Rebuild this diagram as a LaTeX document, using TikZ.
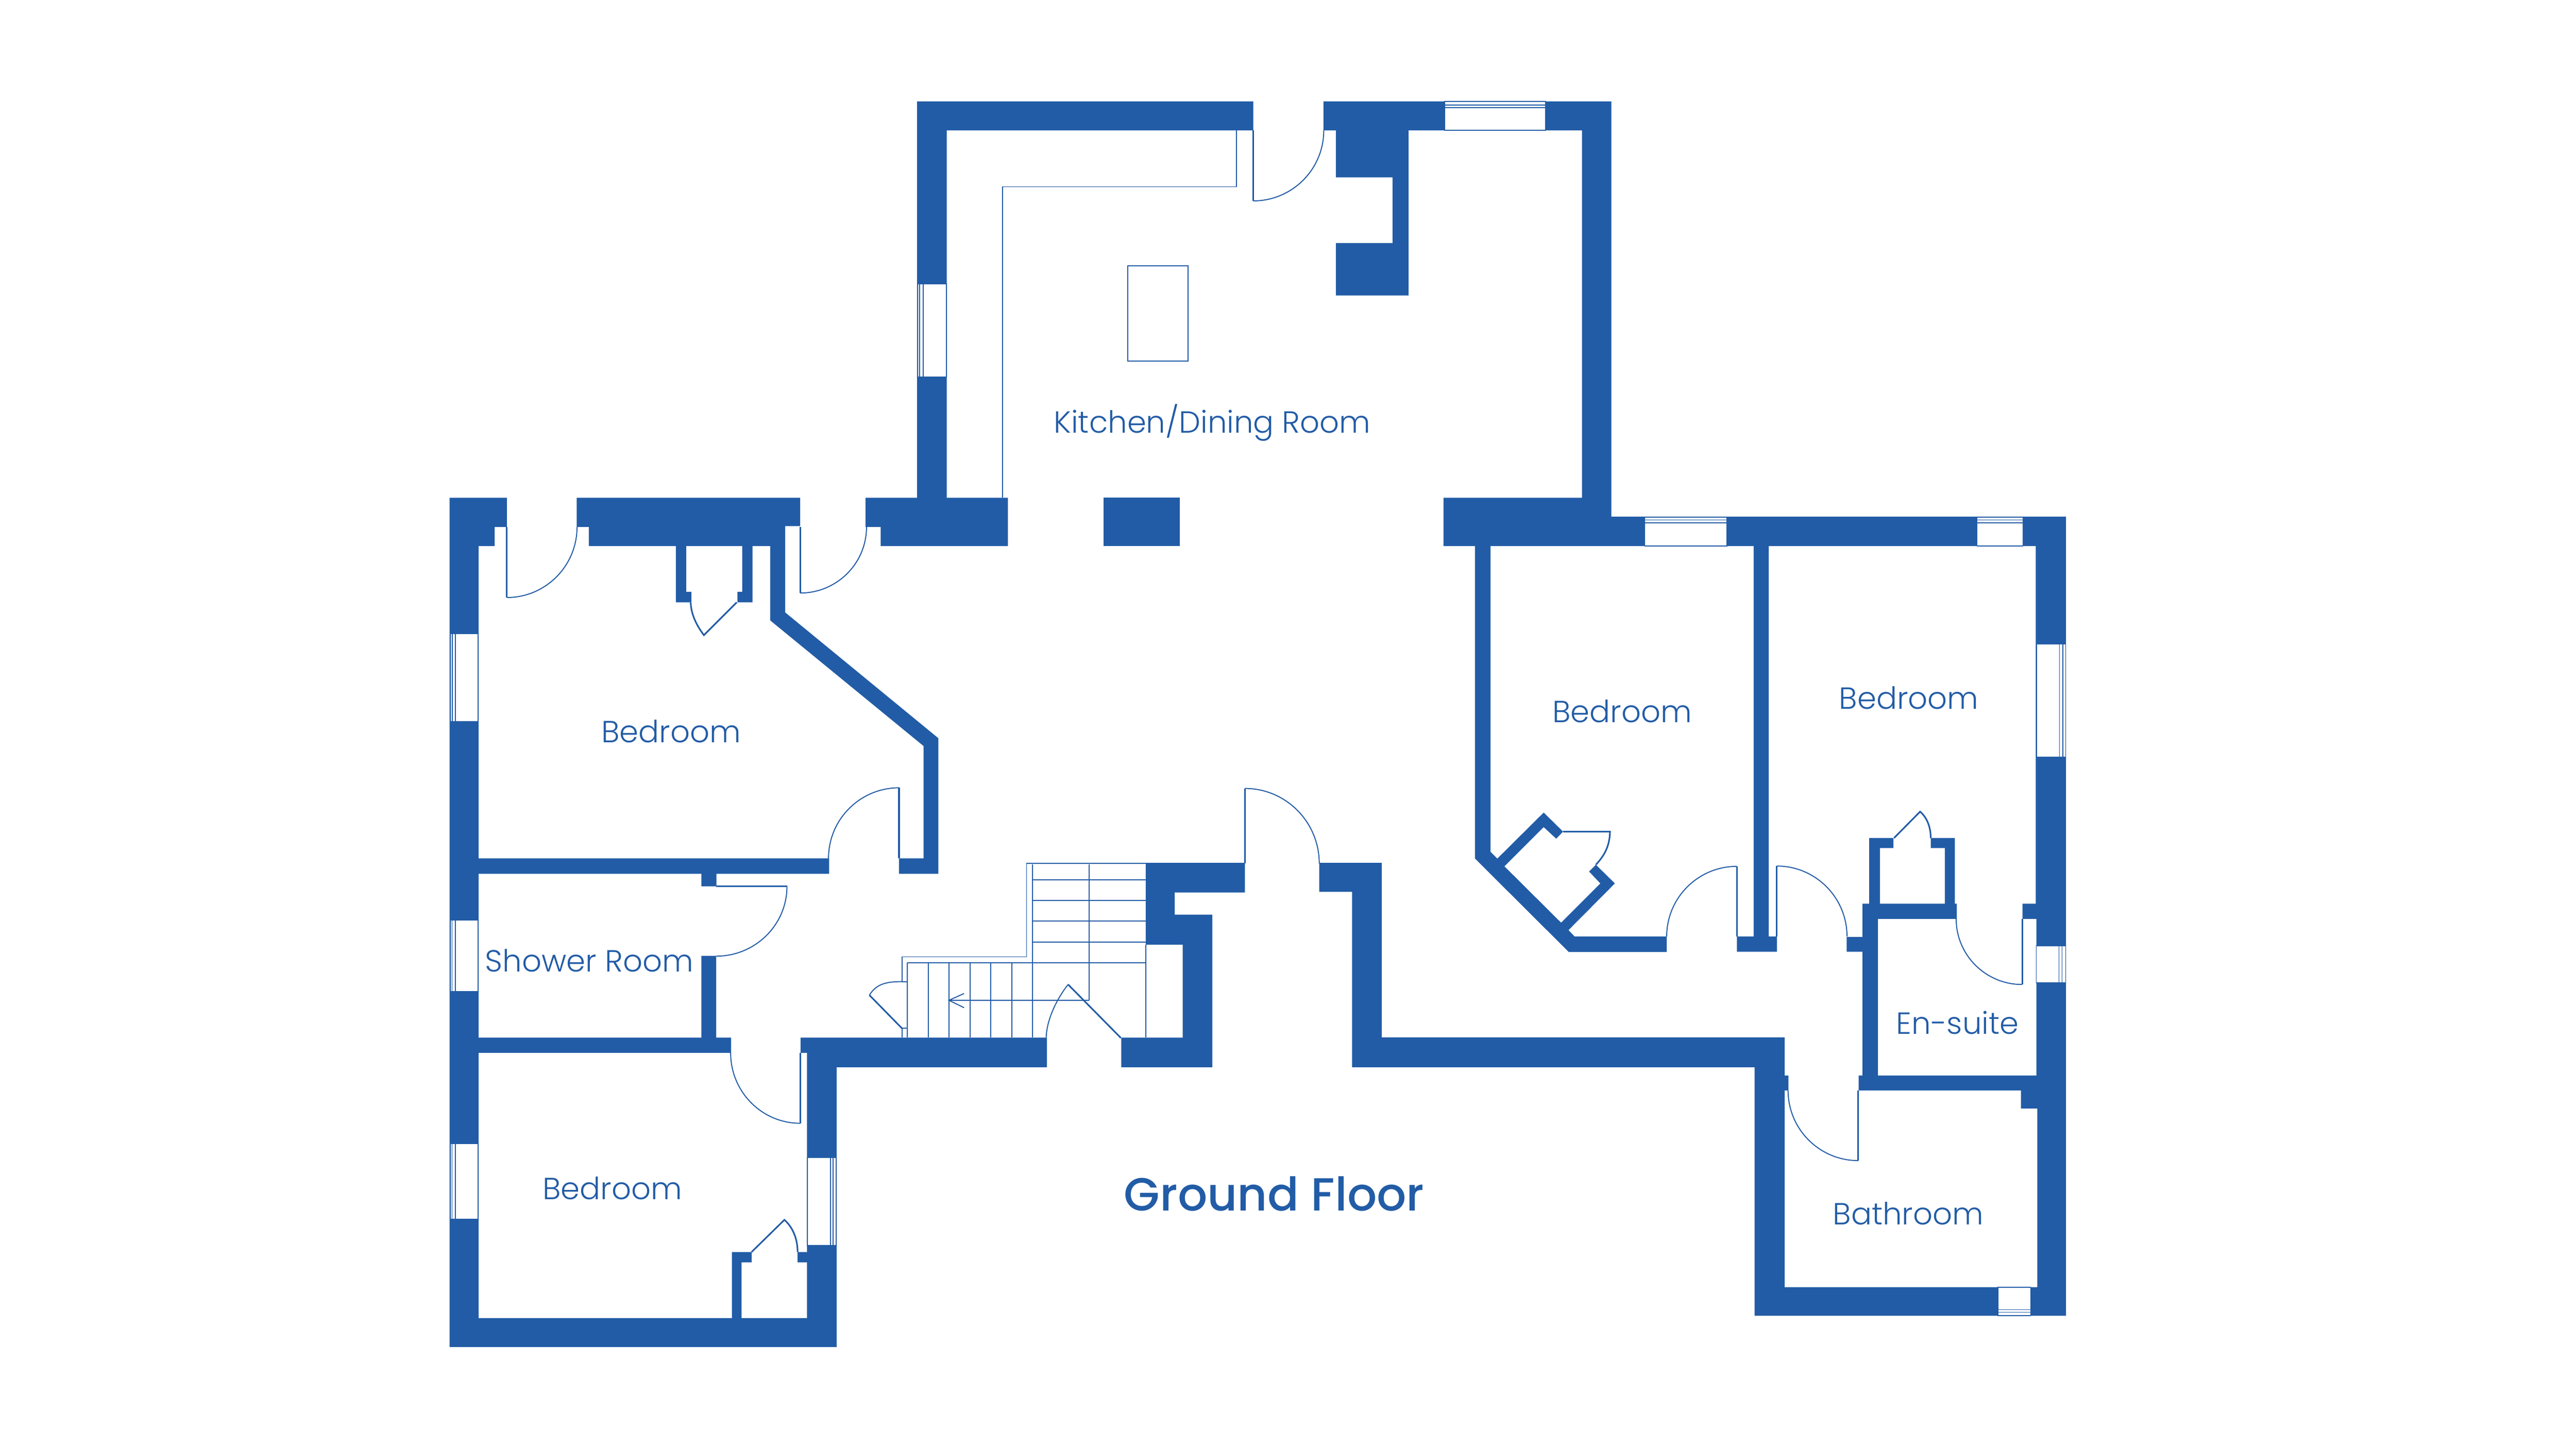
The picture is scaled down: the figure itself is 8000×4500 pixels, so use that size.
\documentclass[tikz,border=0pt]{standalone}
\usepackage{fontspec}
\usetikzlibrary{calc}
\newfontfamily\lightfont{Poppins Light}
\newfontfamily\medfont{Poppins Medium}
\definecolor{planblue}{HTML}{225CA6}
\tikzset{
  wallfill/.style={fill=planblue,draw=none},
  doorleaf/.style={draw=planblue,line width=1.4pt,line join=miter},
  doorarc/.style={draw=planblue,line width=0.9pt},
  fine/.style={draw=planblue,line width=0.8pt},
  treads/.style={draw=planblue,line width=0.9pt},
  winpane/.style={fill=white,draw=planblue,line width=0.7pt},
  winline/.style={draw=planblue,line width=0.7pt},
  roomlabel/.style={text=planblue,font=\lightfont\fontsize{27}{27}\selectfont,anchor=base,inner sep=0pt,outer sep=0pt},
  floorlabel/.style={text=planblue,font=\medfont\fontsize{41}{41}\selectfont,anchor=base,inner sep=0pt,outer sep=0pt}
}
% swing arc: hinge, leaf tip, jamb
\newcommand{\swingarc}[3]{\draw[doorarc] (#2) .. controls ($(#2)+0.5523*(#3)-0.5523*(#1)$) and ($(#3)+0.5523*(#2)-0.5523*(#1)$) .. (#3);}
% full door: hinge, tip, jamb
\newcommand{\doorswing}[3]{\draw[doorleaf] (#1) -- (#2); \swingarc{#1}{#2}{#3}}
\newcommand{\winV}[6]{\draw[winpane] (#1,#2) rectangle (#3,#4); \draw[winline] (#5,#2) -- (#5,#4) (#6,#2) -- (#6,#4);}
\newcommand{\winH}[6]{\draw[winpane] (#1,#2) rectangle (#3,#4); \draw[winline] (#1,#5) -- (#3,#5) (#1,#6) -- (#3,#6);}
\begin{document}
\begin{tikzpicture}[x=0.1mm,y=-0.1mm]
\useasboundingbox (0,0) rectangle (8000,4500);
% west block
\fill[wallfill] (1396,1546) -- (1574,1546) -- (1574,1637) -- (1536,1637) -- (1536,1696) -- (1486,1696) -- (1486,2666) -- (2575,2666) -- (2575,2714) -- (2225,2714) -- (2225,2753) -- (2178,2753) -- (2178,2714) -- (1486,2714) -- (1486,3223) -- (2178,3223) -- (2178,2969) -- (2224,2969) -- (2224,3223) -- (2270,3223) -- (2270,3270) -- (1486,3270) -- (1486,4094) -- (2273,4094) -- (2273,3889) -- (2334,3889) -- (2334,3921) -- (2303,3921) -- (2303,4094) -- (2506,4094) -- (2506,3921) -- (2477,3921) -- (2477,3889) -- (2506,3889) -- (2506,3270) -- (2486,3270) -- (2486,3223) -- (3251,3223) -- (3251,3315) -- (2598,3315) -- (2598,4184) -- (1396,4184) -- cycle;
% north wall of west bedroom and diagonal
\fill[wallfill] (1791,1546) -- (2485,1546) -- (2485,1634) -- (2438,1634) -- (2438,1902) -- (2914,2293) -- (2914,2714) -- (2792,2714) -- (2792,2666) -- (2868,2666) -- (2868,2317) -- (2392,1927) -- (2392,1696) -- (2337,1696) -- (2337,1871) -- (2290,1871) -- (2290,1838) -- (2305,1838) -- (2305,1696) -- (2131,1696) -- (2131,1838) -- (2147,1838) -- (2147,1871) -- (2099,1871) -- (2099,1696) -- (1829,1696) -- (1829,1637) -- (1791,1637) -- cycle;
% kitchen west
\fill[wallfill] (2688,1546) -- (2848,1546) -- (2848,315) -- (3892,315) -- (3892,405) -- (2940,405) -- (2940,1546) -- (3130,1546) -- (3130,1696) -- (2735,1696) -- (2735,1637) -- (2688,1637) -- cycle;
% pillar
\fill[wallfill] (3427,1546) rectangle (3664,1696);
% kitchen east and east wing
\fill[wallfill] (4110,315) -- (5004,315) -- (5004,1605) -- (6416,1605) -- (6416,4087) -- (5449,4087) -- (5449,3315) -- (4199,3315) -- (4199,2770) -- (4097,2770) -- (4097,2680) -- (4291,2680) -- (4291,3222) -- (5542,3222) -- (5542,3341) -- (5554,3341) -- (5554,3387) -- (5542,3387) -- (5542,3998) -- (6327,3998) -- (6327,3443) -- (6276,3443) -- (6276,3387) -- (5772,3387) -- (5772,3341) -- (5784,3341) -- (5784,2956) -- (5735,2956) -- (5735,2910) -- (5784,2910) -- (5784,2807) -- (5805,2807) -- (5805,2603) -- (5880,2603) -- (5880,2634) -- (5838,2634) -- (5838,2807) -- (6040,2807) -- (6040,2634) -- (5996,2634) -- (5996,2603) -- (6071,2603) -- (6071,2807) -- (6077,2807) -- (6077,2854) -- (5832,2854) -- (5832,3341) -- (6324,3341) -- (6324,2854) -- (6281,2854) -- (6281,2807) -- (6322,2807) -- (6322,1696) -- (5493,1696) -- (5493,2909) -- (5518,2909) -- (5518,2956) -- (5394,2956) -- (5394,2909) -- (5446,2909) -- (5446,1696) -- (4629,1696) -- (4629,2646) -- (4650,2667) -- (4794,2524) -- (4854,2583) -- (4833,2605) -- (4794,2569) -- (4672,2691) -- (4848,2866) -- (4970,2744) -- (4935,2707) -- (4956,2686) -- (5015,2744) -- (4871,2889) -- (4890,2909) -- (5176,2909) -- (5176,2957) -- (4872,2957) -- (4581,2667) -- (4581,1696) -- (4483,1696) -- (4483,1546) -- (4913,1546) -- (4913,405) -- (4374,405) -- (4374,918) -- (4149,918) -- (4149,755) -- (4325,755) -- (4325,551) -- (4149,551) -- (4149,405) -- (4110,405) -- cycle;
% block beside stairs
\fill[wallfill] (3482,3223) -- (3673,3223) -- (3673,2934) -- (3558,2934) -- (3558,2682) -- (3866,2682) -- (3866,2772) -- (3648,2772) -- (3648,2841) -- (3765,2841) -- (3765,3315) -- (3482,3315) -- cycle;
% windows
\winV{2850}{882}{2939}{1171}{2856}{2867}
\winH{4486}{315}{4800}{405}{326}{334}
\winV{1398}{1968}{1485}{2242}{1405}{1414}
\winV{1398}{2858}{1485}{3079}{1404}{1414}
\winV{1398}{3553}{1485}{3786}{1404}{1414}
\winV{2507}{3596}{2597}{3869}{2579}{2587}
\winH{5108}{1606}{5363}{1696}{1615}{1624}
\winH{6140}{1606}{6282}{1696}{1615}{1624}
\winV{6325}{2000}{6415}{2351}{6396}{6406}
\winV{6324}{2938}{6415}{3053}{6394}{6404}
\winH{6205}{3998}{6306}{4086}{4068}{4076}
% kitchen worktop and island
\draw[fine] (3840,405) -- (3840,580) -- (3113,580) -- (3113,1546);
\draw[fine] (3502,826) rectangle (3689,1122);
% doors
\coordinate (kh) at (3892,405); \coordinate (kt) at (3892,624); \coordinate (kj) at (4111,405);
\doorswing{kh}{kt}{kj}
\coordinate (ah) at (1574,1637); \coordinate (at) at (1574,1856); \coordinate (aj) at (1792,1637);
\doorswing{ah}{at}{aj}
\coordinate (bh) at (2485,1637); \coordinate (bt) at (2485,1842); \coordinate (bj) at (2691,1637);
\doorswing{bh}{bt}{bj}
\coordinate (ch) at (2792,2666); \coordinate (ct) at (2792,2447); \coordinate (cj) at (2573,2666);
\doorswing{ch}{ct}{cj}
\coordinate (dh) at (2224,2753); \coordinate (dt) at (2444,2753); \coordinate (dj) at (2224,2970);
\doorswing{dh}{dt}{dj}
\coordinate (eh) at (2485,3270); \coordinate (et) at (2485,3489); \coordinate (ej) at (2269,3270);
\doorswing{eh}{et}{ej}
\coordinate (fh) at (3866,2682); \coordinate (ft) at (3866,2449); \coordinate (fj) at (4097,2682);
\doorswing{fh}{ft}{fj}
\coordinate (gh) at (5394,2909); \coordinate (gt) at (5394,2691); \coordinate (gj) at (5176,2909);
\doorswing{gh}{gt}{gj}
\coordinate (hh) at (5518,2909); \coordinate (ht) at (5518,2690); \coordinate (hj) at (5736,2909);
\doorswing{hh}{ht}{hj}
\coordinate (ih) at (6280,2854); \coordinate (it) at (6280,3058); \coordinate (ij) at (6075,2854);
\doorswing{ih}{it}{ij}
\coordinate (jh) at (5771,3387); \coordinate (jt) at (5771,3605); \coordinate (jj) at (5553,3387);
\doorswing{jh}{jt}{jj}
% closet doors
\draw[doorleaf] (2288,1871) -- (2186,1973) .. controls (2160,1938) and (2146,1905) .. (2145,1871);
\draw[doorleaf] (2334,3889) -- (2436,3789) .. controls (2460,3810) and (2477,3845) .. (2477,3889);
\draw[doorleaf] (5882,2603) -- (5963,2521) .. controls (5985,2540) and (5996,2570) .. (5996,2603);
\draw[doorleaf] (4854,2583) -- (5000,2583) .. controls (4999,2625) and (4985,2655) .. (4956,2686);
% stairs
\draw[fine] (3866,2682) -- (3188,2682) -- (3188,2972) -- (2801,2972) -- (2801,3049) -- (2817,3049);
\draw[fine] (2817,3194) -- (2801,3194) -- (2801,3223);
\draw[doorarc] (2801,3049) .. controls (2755,3049) and (2722,3055) .. (2700,3091);
\draw[doorleaf] (2700,3091) -- (2801,3194);
\draw[treads] (3207,2684) -- (3207,3223) (3382,2684) -- (3382,3107);
\draw[treads] (3207,2733) -- (3558,2733) (3207,2797) -- (3558,2797) (3207,2861) -- (3558,2861) (3207,2926) -- (3558,2926) (2818,2990) -- (3558,2990);
\draw[treads] (2818,2990) -- (2818,3223) (2883,2990) -- (2883,3223) (2947,2990) -- (2947,3223) (3013,2990) -- (3013,3223) (3077,2990) -- (3077,3223) (3142,2990) -- (3142,3223);
\draw[treads] (3558,2934) -- (3558,3223);
\draw[treads] (3382,3107) -- (2947,3107) (2994,3086) -- (2947,3107) -- (2994,3130);
% entrance inner door
\draw[doorleaf] (3481,3224) -- (3317,3058);
\draw[doorarc] (3317,3058) .. controls (3280,3105) and (3250,3170) .. (3249,3223);
% labels
\node[roomlabel] (kitchen) at (3765,1345) {Kitchen/Dining Room};
\node[roomlabel] (bedw) at (2084,2306) {Bedroom};
\node[roomlabel] (shower) at (1830,3019) {Shower Room};
\node[roomlabel] (beds) at (1902,3726) {Bedroom};
\node[roomlabel] (bede) at (5038,2244) {Bedroom};
\node[roomlabel] (bedf) at (5928,2203) {Bedroom};
\node[roomlabel] (ensuite) at (6079,3212) {En-suite};
\node[roomlabel] (bath) at (5926,3804) {Bathroom};
\node[floorlabel] (ground) at (3957,3760) {Ground Floor};
\end{tikzpicture}
\end{document}
